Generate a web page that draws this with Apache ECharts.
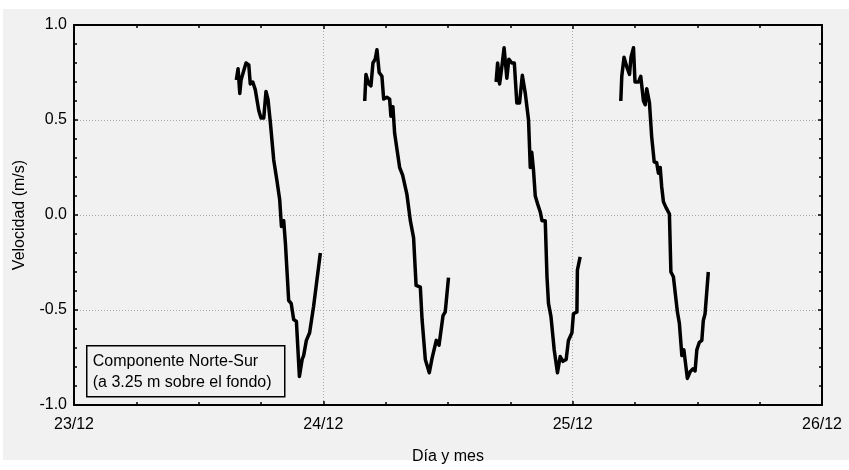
<!DOCTYPE html>
<html>
<head>
<meta charset="utf-8">
<script src="https://cdn.jsdelivr.net/npm/echarts@6/dist/echarts.min.js"></script>
<style>
  html, body { margin: 0; padding: 0; background: #ffffff; }
  #chart { width: 849px; height: 470px; }
</style>
</head>
<body>
<div id="chart"></div>
<script>
// Day labels along the time axis (0 = 23/12 00:00, unit = days)
const dayLabels = ['23/12', '24/12', '25/12', '26/12'];

// Velocity tick values
const velocityTicks = [-1.0, -0.5, 0.0, 0.5, 1.0];

// Measurement bursts: [time in days since 23/12 00:00, velocity m/s]
const burst1 = [
  [0.651, 0.71], [0.658, 0.77], [0.665, 0.64], [0.670, 0.71], [0.681, 0.76],
  [0.690, 0.80], [0.701, 0.79], [0.707, 0.69], [0.717, 0.70], [0.727, 0.66],
  [0.741, 0.55], [0.750, 0.51], [0.761, 0.51], [0.770, 0.65], [0.778, 0.61],
  [0.788, 0.48], [0.801, 0.29], [0.814, 0.18], [0.825, 0.08], [0.832, -0.06],
  [0.841, -0.03], [0.848, -0.15], [0.861, -0.45], [0.871, -0.465], [0.881, -0.55],
  [0.892, -0.56], [0.904, -0.85], [0.915, -0.76], [0.921, -0.74], [0.932, -0.66],
  [0.945, -0.62], [0.961, -0.48], [0.988, -0.20]
];
const burst2 = [
  [1.166, 0.60], [1.171, 0.74], [1.182, 0.69], [1.191, 0.68], [1.199, 0.80],
  [1.208, 0.82], [1.215, 0.87], [1.224, 0.75], [1.235, 0.73], [1.242, 0.61],
  [1.255, 0.62], [1.266, 0.61], [1.271, 0.52], [1.279, 0.57], [1.286, 0.43],
  [1.306, 0.25], [1.318, 0.21], [1.335, 0.11], [1.349, -0.03], [1.362, -0.12],
  [1.372, -0.37], [1.389, -0.38], [1.396, -0.55], [1.409, -0.76], [1.425, -0.83],
  [1.436, -0.755], [1.453, -0.66], [1.464, -0.685], [1.480, -0.53], [1.489, -0.51],
  [1.502, -0.33]
];
const burst3 = [
  [1.693, 0.70], [1.699, 0.80], [1.707, 0.69], [1.716, 0.78], [1.725, 0.88],
  [1.736, 0.72], [1.744, 0.82], [1.756, 0.80], [1.766, 0.80], [1.776, 0.59],
  [1.787, 0.59], [1.798, 0.735], [1.810, 0.64], [1.823, 0.50], [1.830, 0.25],
  [1.836, 0.33], [1.843, 0.235], [1.850, 0.10], [1.859, 0.06], [1.870, 0.016],
  [1.877, -0.03], [1.890, -0.03], [1.897, -0.325], [1.903, -0.465], [1.913, -0.535],
  [1.926, -0.71], [1.939, -0.83], [1.950, -0.745], [1.961, -0.77], [1.974, -0.76],
  [1.983, -0.66], [1.997, -0.62], [2.003, -0.52], [2.017, -0.51], [2.019, -0.29],
  [2.030, -0.22]
];
const burst4 = [
  [2.193, 0.60], [2.197, 0.73], [2.206, 0.83], [2.217, 0.78], [2.228, 0.74],
  [2.234, 0.83], [2.244, 0.88], [2.250, 0.70], [2.264, 0.70], [2.273, 0.73],
  [2.284, 0.60], [2.291, 0.58], [2.297, 0.665], [2.308, 0.59], [2.317, 0.41],
  [2.327, 0.28], [2.337, 0.275], [2.344, 0.22], [2.351, 0.25], [2.357, 0.15],
  [2.364, 0.07], [2.374, 0.04], [2.388, 0.005], [2.394, -0.30], [2.404, -0.325],
  [2.420, -0.51], [2.428, -0.57], [2.438, -0.74], [2.446, -0.71], [2.460, -0.86],
  [2.471, -0.825], [2.482, -0.81], [2.491, -0.82], [2.498, -0.71], [2.508, -0.67],
  [2.518, -0.66], [2.524, -0.555], [2.531, -0.52], [2.544, -0.30]
];

const bursts = [burst1, burst2, burst3, burst4];

const FONT = 'Liberation Sans, Arial, sans-serif';
const chart = echarts.init(document.getElementById('chart'), null, { renderer: 'canvas' });

const frameLine = { show: true, onZero: false, lineStyle: { color: '#000', width: 2 } };
const gridDots = { show: true, lineStyle: { color: '#a8a8a8', type: [1, 2], width: 1 } };

function xAxisCfg(pos, main) {
  return {
    type: 'value', position: pos, min: 0, max: dayLabels.length - 1, interval: 1,
    axisLine: frameLine,
    axisTick: { show: true, inside: true, length: 4, lineStyle: { color: '#000', width: 1.5 } },
    minorTick: { show: true, splitNumber: 4, length: 3, lineStyle: { color: '#000', width: 1.5 } },
    splitLine: main ? gridDots : { show: false },
    axisLabel: main ? {
      show: true, margin: 12, color: '#000', fontSize: 16, fontFamily: FONT,
      formatter: v => dayLabels[Math.round(v)]
    } : { show: false },
    name: main ? 'Día y mes' : '',
    nameLocation: 'middle', nameGap: 44,
    nameTextStyle: { color: '#000', fontSize: 16, fontFamily: FONT }
  };
}

function yAxisCfg(pos, main) {
  return {
    type: 'value', position: pos,
    min: velocityTicks[0], max: velocityTicks[velocityTicks.length - 1], interval: 0.5,
    axisLine: frameLine,
    axisTick: { show: true, inside: true, length: 4, lineStyle: { color: '#000', width: 1.5 } },
    minorTick: { show: true, splitNumber: 5, length: 3, lineStyle: { color: '#000', width: 1.5 } },
    splitLine: main ? gridDots : { show: false },
    axisLabel: main ? {
      show: true, margin: 7, color: '#000', fontSize: 16, fontFamily: FONT,
      formatter: v => v.toFixed(1)
    } : { show: false },
    name: main ? 'Velocidad (m/s)' : '',
    nameLocation: 'middle', nameGap: 46,
    nameTextStyle: { color: '#000', fontSize: 16, fontFamily: FONT }
  };
}

chart.setOption({
  animation: false,
  backgroundColor: '#ffffff',
  graphic: [
    { type: 'rect', z: -10, silent: true,
      shape: { x: 3, y: 9, width: 846, height: 451 },
      style: { fill: '#f1f1f1' } },
    { type: 'group', left: 86, top: 345, z: 100, children: [
      { type: 'rect', shape: { x: 0, y: 0, width: 198, height: 51 },
        style: { fill: '#f1f1f1', stroke: '#000', lineWidth: 1.5 } },
      { type: 'text', x: 6, y: 5,
        style: { text: 'Componente Norte-Sur\n(a 3.25 m sobre el fondo)',
                 fill: '#000', font: '16px ' + FONT, lineHeight: 21 } }
    ]}
  ],
  grid: { left: 74, right: 27, top: 25, bottom: 65, containLabel: false },
  xAxis: [xAxisCfg('bottom', true), xAxisCfg('top', false)],
  yAxis: [yAxisCfg('left', true), yAxisCfg('right', false)],
  series: bursts.map(b => ({
    type: 'line', xAxisIndex: 0, yAxisIndex: 0, data: b,
    showSymbol: false, symbol: 'none', smooth: false,
    lineStyle: { color: '#000', width: 3.5, join: 'round' },
    z: 5
  }))
});
</script>
</body>
</html>
